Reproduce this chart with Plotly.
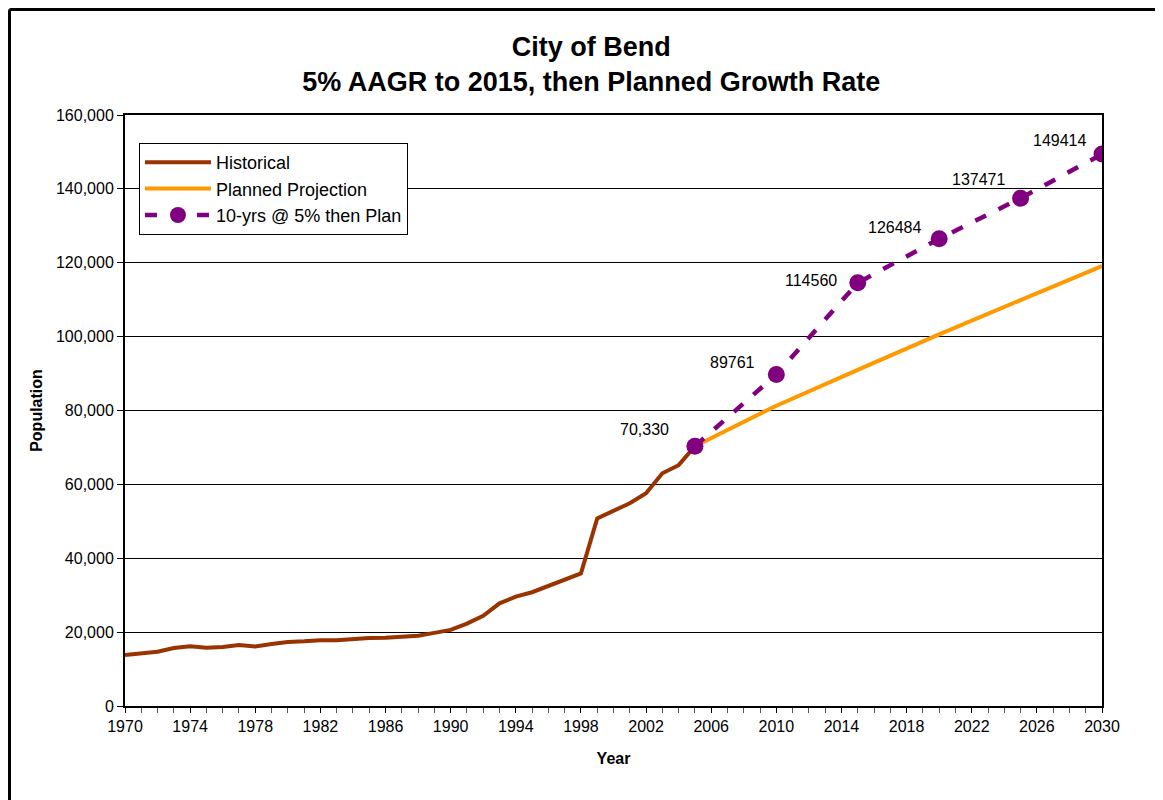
"""City of Bend population: historical, planned projection and 5% AAGR scenario."""

import plotly.graph_objects as go

# Historical population, 1970-2005
hist_years = list(range(1970, 2006))
hist_pop = [
    13800, 14250, 14700, 15700, 16200, 15800, 16000, 16500, 16100, 16800,
    17300, 17500, 17800, 17800, 18200, 18400, 18500, 18700, 19000, 19800,
    20600, 22300, 24400, 27800, 29600, 30800, 32500, 34100, 35900, 50800,
    52800, 54900, 57600, 63000, 65200, 70330,
]

# Planned projection
plan_years = [2005, 2010, 2015, 2020, 2025, 2030]
plan_pop = [70330, 81300, 91000, 100600, 109900, 119100]

# 10 years at 5% AAGR, then plan rate
aagr_years = [2005, 2010, 2015, 2020, 2025, 2030]
aagr_pop = [70330, 89761, 114560, 126484, 137471, 149414]
aagr_labels = ["70,330", "89761", "114560", "126484", "137471", "149414"]

# label nudges (px) as placed by hand in the original chart
label_dx = [-24, -19, -19, -16, -14, -14]
label_dy = [17, 12, 2, 11, 19, 14]

COLOR_HIST = "#993300"
COLOR_PLAN = "#FF9900"
COLOR_AAGR = "#800080"
FONT = "Liberation Sans, Arial, sans-serif"

# page has an 8px body margin, so the figure is 8px smaller than the window
W, H = 1155, 792
ML, MR, MT, MB = 117, 61, 107, 94

fig = go.Figure()
fig.add_trace(go.Scatter(
    x=hist_years, y=hist_pop, mode="lines", name="Historical",
    line=dict(color=COLOR_HIST, width=4),
))
fig.add_trace(go.Scatter(
    x=plan_years, y=plan_pop, mode="lines", name="Planned Projection",
    line=dict(color=COLOR_PLAN, width=4),
))
fig.add_trace(go.Scatter(
    x=aagr_years, y=aagr_pop, mode="lines+markers", name="10-yrs @ 5% then Plan",
    line=dict(color=COLOR_AAGR, width=4.5, dash="12px,14px"),
    marker=dict(color=COLOR_AAGR, size=17),
))

for yr, val, lab, dx, dy in zip(aagr_years, aagr_pop, aagr_labels, label_dx, label_dy):
    fig.add_annotation(
        x=yr, y=val, text=lab, showarrow=False,
        xanchor="right", yanchor="middle", xshift=dx, yshift=dy,
        font=dict(size=16, family=FONT, color="#000000"),
    )

fig.update_layout(
    width=W, height=H,
    paper_bgcolor="#FFFFFF", plot_bgcolor="#FFFFFF",
    font=dict(family=FONT, size=16, color="#000000"),
    margin=dict(l=ML, r=MR, t=MT, b=MB),
    title=dict(
        text="<b>City of Bend</b><br><b>5% AAGR to 2015, then Planned Growth Rate</b>",
        x=0.505, xanchor="center", y=1 - 48 / H, yanchor="top",
        font=dict(size=27, family=FONT, color="#000000"),
    ),
    showlegend=True,
    legend=dict(
        x=0.0143, y=0.9526, xanchor="left", yanchor="top",
        bgcolor="#FFFFFF", bordercolor="#000000", borderwidth=1,
        font=dict(size=18, family=FONT), tracegroupgap=0, itemwidth=66,
    ),
    xaxis=dict(
        range=[1970, 2030], tick0=1970, dtick=4,
        ticks="outside", ticklen=5, tickcolor="#000000",
        minor=dict(dtick=1, ticks="outside", ticklen=5, tickcolor="#555555"),
        showgrid=False, zeroline=False,
        showline=True, linecolor="#000000", linewidth=2, mirror=True,
        tickfont=dict(size=16),
        title=dict(text="<b>Year</b>", font=dict(size=16), standoff=19),
    ),
    yaxis=dict(
        range=[0, 160000], dtick=20000, tickformat=",d",
        ticks="outside", ticklen=6, tickcolor="#000000",
        showgrid=True, gridcolor="#000000", gridwidth=1, zeroline=False,
        showline=True, linecolor="#000000", linewidth=2, mirror=True,
        tickfont=dict(size=16),
        title=dict(text="<b>Population</b>", font=dict(size=16), standoff=9),
    ),
)

# outer chart frame (top and left edges only)
pw = W - ML - MR
ph = H - MT - MB
fx = (1.5 - ML) / pw
fy = (H - MB - 1.5) / ph
fig.add_shape(type="line", xref="paper", yref="paper",
              x0=fx, x1=fx, y0=-0.2, y1=fy,
              line=dict(color="#000000", width=3))
fig.add_shape(type="line", xref="paper", yref="paper",
              x0=fx, x1=1.1, y0=fy, y1=fy,
              line=dict(color="#000000", width=3))

fig.write_html("out.html")
